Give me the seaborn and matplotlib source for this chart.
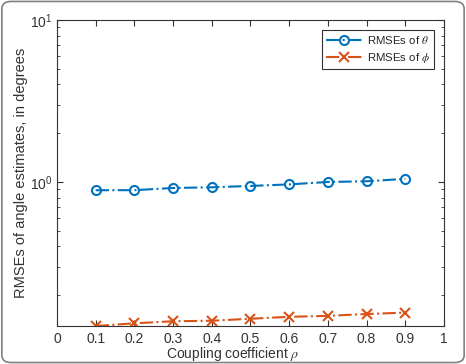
import numpy as np
import pandas as pd
import seaborn as sns
import matplotlib.pyplot as plt
from matplotlib.patches import FancyBboxPatch
from matplotlib.ticker import LogLocator, NullFormatter, FixedLocator

# data
rho = [0.1, 0.2, 0.3, 0.4, 0.5, 0.6, 0.7, 0.8, 0.9]
rmse_theta = [0.889, 0.890, 0.918, 0.927, 0.945, 0.966, 1.000, 1.010, 1.045]
rmse_phi = [0.129, 0.134, 0.138, 0.139, 0.143, 0.147, 0.149, 0.153, 0.156]
x_ticks = [0, 0.1, 0.2, 0.3, 0.4, 0.5, 0.6, 0.7, 0.8, 0.9, 1]
x_ticklabels = ['0', '0.1', '0.2', '0.3', '0.4', '0.5', '0.6', '0.7', '0.8', '0.9', '1']

sns.set_style('ticks')
plt.rcParams['font.family'] = ['Liberation Sans', 'DejaVu Sans']
plt.rcParams['mathtext.fontset'] = 'stix'

blue = '#0072BD'
orange = '#D95319'
ink = '#333333'

fig = plt.figure(figsize=(4.66, 3.64), dpi=100)
ax = fig.add_axes([0.1223, 0.1044, 0.8305, 0.8406])

# rounded frame around the whole figure
frame = FancyBboxPatch((0.004, 0.004), 0.992, 0.992, boxstyle='round,pad=0,rounding_size=0.02',
                       transform=fig.transFigure, fill=False, edgecolor='#808080', lw=1.2)
fig.patches.append(frame)

sns.lineplot(x=rho, y=rmse_theta, ax=ax, color=blue, linestyle='-.', lw=1.5,
             marker='o', markersize=6.5, markerfacecolor='none', markeredgecolor=blue,
             markeredgewidth=1.5, label=r'RMSEs of $\theta$')
sns.lineplot(x=rho, y=rmse_phi, ax=ax, color=orange, linestyle='-.', lw=1.5,
             marker='x', markersize=6.5, markeredgecolor=orange,
             markeredgewidth=1.5, label=r'RMSEs of $\phi$')

ax.set_yscale('log')
ax.set_xlim(0, 1)
ax.set_ylim(min(rmse_phi), 10)
ax.xaxis.set_major_locator(FixedLocator(x_ticks))
ax.set_xticklabels(x_ticklabels)
ax.yaxis.set_major_locator(LogLocator(base=10))
ax.yaxis.set_minor_locator(LogLocator(base=10, subs=np.arange(2, 10)))
ax.yaxis.set_minor_formatter(NullFormatter())

for s in ax.spines.values():
    s.set_visible(True)
    s.set_color(ink)
    s.set_linewidth(0.8)
ax.tick_params(which='both', direction='in', top=True, right=True, colors=ink,
               labelsize=10, labelcolor=ink)
ax.tick_params(which='major', length=4)
ax.tick_params(which='minor', length=2.5)
ax.tick_params(axis='x', pad=4.5)

ax.set_xlabel(r'Coupling coefficient $\rho$', fontsize=10, color=ink, va='baseline')
ax.xaxis.set_label_coords(0.5, 6 / 364, transform=fig.transFigure)
ax.set_ylabel('RMSEs of angle estimates, in degrees', fontsize=10.5, color=ink, labelpad=1)

leg = ax.legend(loc='upper right', fontsize=8.2, frameon=True, fancybox=False,
                handlelength=3.2, handletextpad=0.4, borderpad=0.35, labelspacing=0.4,
                borderaxespad=0.9)
leg.get_frame().set_edgecolor(ink)
leg.get_frame().set_linewidth(0.8)
leg.get_frame().set_alpha(1)

fig.savefig('out.png', dpi=100)
